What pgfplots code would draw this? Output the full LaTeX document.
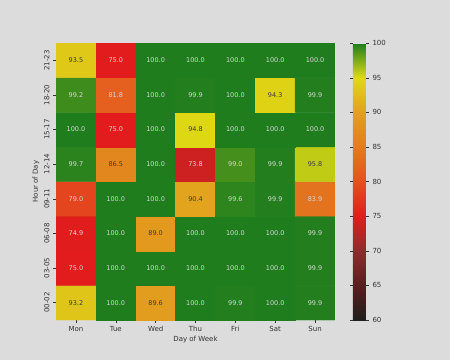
\documentclass[border=0pt]{standalone}
\usepackage{pgfplots}
\pgfplotsset{compat=1.18}
\usepackage{fontspec}
\setmainfont{DejaVu Sans}
\definecolor{bg}{RGB}{220,220,220}
\definecolor{lt}{RGB}{215,215,215}
\definecolor{dk}{RGB}{60,60,60}
\definecolor{tk}{RGB}{50,50,50}
\begin{document}
\begin{tikzpicture}
\useasboundingbox (0,0) rectangle (450pt,360pt);
\fill[bg] (0,0) rectangle (450pt,360pt);
\begin{axis}[
  at={(56pt,40pt)}, anchor=south west,
  width=279pt, height=277pt, scale only axis,
  xmin=-0.5, xmax=6.5, ymin=-0.5, ymax=7.5,
  xtick={0,...,6}, xticklabels={Mon,Tue,Wed,Thu,Fri,Sat,Sun},
  ytick={0,...,7}, yticklabels={00-02,03-05,06-08,09-11,12-14,15-17,18-20,21-23},
  yticklabel style={rotate=90, anchor=south},
  axis line style={draw=none},
  tick align=outside, major tick length=3pt,
  tick style={draw=tk, line width=0.5pt},
  xtick pos=bottom, ytick pos=left,
  ticklabel style={font=\fontsize{7}{8}\selectfont, text=tk},
  xlabel={Day of Week}, ylabel={Hour of Day},
  label style={font=\fontsize{7}{8}\selectfont, text=tk},
  xlabel style={yshift=3pt}, ylabel style={yshift=-2pt},
  colormap={hm}{rgb255(60)=(32,30,30) rgb255(65)=(90,30,30) rgb255(70)=(140,45,45) rgb255(75)=(226,28,28) rgb255(80)=(230,80,30) rgb255(85)=(226,125,30) rgb255(90)=(226,160,30) rgb255(95)=(222,218,20) rgb255(100)=(30,125,30)},
  point meta min=60, point meta max=100,
  colorbar,
  colorbar style={
    width=13pt, at={(1.0645,0)}, anchor=south west,
    height=277pt,
    ytick={60,65,...,100},
    /pgf/number format/assume math mode=true,
    yticklabel style={font=\fontsize{7}{8}\selectfont, text=tk},
    tick style={draw=tk}, major tick length=3pt, tick align=outside,
    axis line style={draw=none},
  },
]
\addplot[matrix plot*, mesh/cols=7, point meta=explicit] table[meta=z] {
x y z
0 0 93.2
1 0 100.0
2 0 89.6
3 0 100.0
4 0 99.9
5 0 100.0
6 0 99.9
0 1 75.0
1 1 100.0
2 1 100.0
3 1 100.0
4 1 100.0
5 1 100.0
6 1 99.9
0 2 74.9
1 2 100.0
2 2 89.0
3 2 100.0
4 2 100.0
5 2 100.0
6 2 99.9
0 3 79.0
1 3 100.0
2 3 100.0
3 3 90.4
4 3 99.6
5 3 99.9
6 3 83.9
0 4 99.7
1 4 86.5
2 4 100.0
3 4 73.8
4 4 99.0
5 4 99.9
6 4 95.8
0 5 100.0
1 5 75.0
2 5 100.0
3 5 94.8
4 5 100.0
5 5 100.0
6 5 100.0
0 6 99.2
1 6 81.8
2 6 100.0
3 6 99.9
4 6 100.0
5 6 94.3
6 6 99.9
0 7 93.5
1 7 75.0
2 7 100.0
3 7 100.0
4 7 100.0
5 7 100.0
6 7 100.0
};
% light annotations
\addplot[draw=none, mark=none, point meta=explicit symbolic,
  nodes near coords, nodes near coords align={center},
  nodes near coords style={font=\fontsize{6.5}{7}\selectfont, text=lt, anchor=center}]
  table[meta=l] {
x y l
1 0 100.0
3 0 100.0
4 0 99.9
5 0 100.0
6 0 99.9
0 1 75.0
1 1 100.0
2 1 100.0
3 1 100.0
4 1 100.0
5 1 100.0
6 1 99.9
0 2 74.9
1 2 100.0
3 2 100.0
4 2 100.0
5 2 100.0
6 2 99.9
0 3 79.0
1 3 100.0
2 3 100.0
4 3 99.6
5 3 99.9
6 3 83.9
0 4 99.7
2 4 100.0
3 4 73.8
4 4 99.0
5 4 99.9
0 5 100.0
1 5 75.0
2 5 100.0
4 5 100.0
5 5 100.0
6 5 100.0
0 6 99.2
1 6 81.8
2 6 100.0
3 6 99.9
4 6 100.0
6 6 99.9
1 7 75.0
2 7 100.0
3 7 100.0
4 7 100.0
5 7 100.0
6 7 100.0
};
% dark annotations
\addplot[draw=none, mark=none, point meta=explicit symbolic,
  nodes near coords, nodes near coords align={center},
  nodes near coords style={font=\fontsize{6.5}{7}\selectfont, text=dk, anchor=center}]
  table[meta=l] {
x y l
0 0 93.2
2 0 89.6
2 2 89.0
3 3 90.4
1 4 86.5
6 4 95.8
3 5 94.8
5 6 94.3
0 7 93.5
};
\end{axis}
\end{tikzpicture}
\end{document}
